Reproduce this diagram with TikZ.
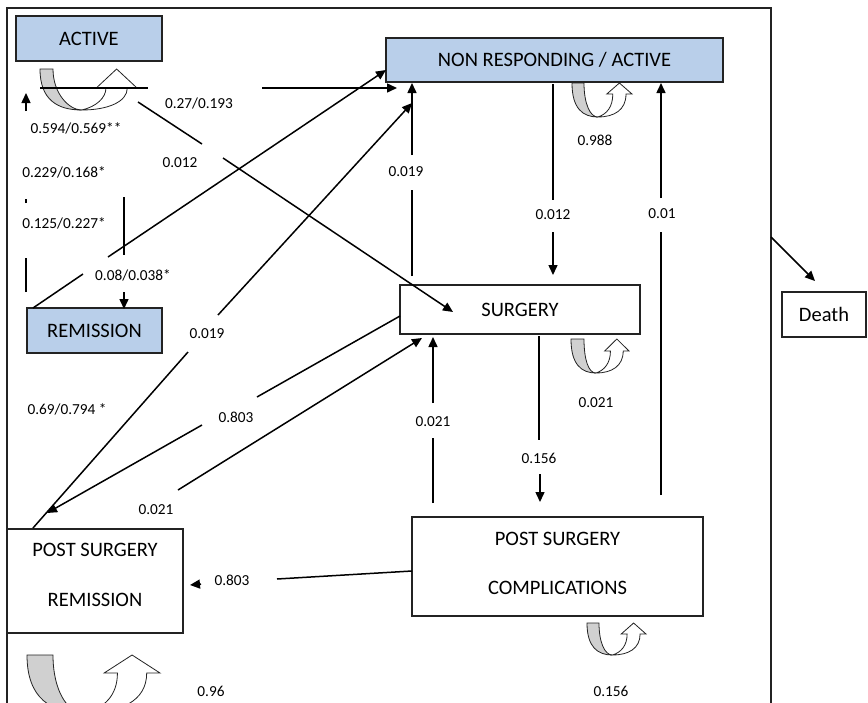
\documentclass[tikz,border=0pt]{standalone}
\usepackage{fontspec}
\setmainfont{Carlito}
\usetikzlibrary{arrows.meta}

\definecolor{stateblue}{RGB}{185,207,234}
\definecolor{loopgrey}{RGB}{208,208,208}
\definecolor{edgeink}{RGB}{35,35,35}

\tikzset{
  box/.style={draw=edgeink, line width=1.3pt, inner sep=0pt,
    font=\fontsize{20.5}{24}\selectfont},
  state/.style={box, fill=stateblue},
  twoline/.style={box, align=center, font=\fontsize{20.5}{49.5}\selectfont},
  prob/.style={inner sep=0pt, text depth=0pt, font=\fontsize{15.3}{18}\selectfont},
  link/.style={line width=1.5pt, draw=black},
  arr/.style={link, -{Triangle[length=10pt,width=9pt]}},
  frame/.style={line width=1.3pt, draw=edgeink},
  loopback/.style={draw=edgeink, line width=0.8pt, fill=loopgrey},
  loopfront/.style={draw=edgeink, line width=0.8pt, fill=white},
}

% curved self-transition icon: top-left corner (#1,#2), width #3, height #4,
% shaded band width #5, arrow-head length #6
\newcommand{\loopicon}[6]{%
  \begin{scope}[shift={(#1,#2)}]
    \path[loopback] (0,0) -- (#5,0)
      .. controls (#5,{0.6*#4}) and ({0.3*#3},#4) .. ({0.43*#3},#4)
      .. controls ({0.18*#3},#4) and (0,{0.75*#4}) .. cycle;
    \path[loopfront] ({0.43*#3},#4)
      .. controls ({0.58*#3},{0.92*#4}) and ({0.68*#3},{0.7*#4}) .. ({0.68*#3},#6)
      -- ({0.58*#3},#6) -- ({0.79*#3},0) -- (#3,#6) -- ({0.9*#3},#6)
      .. controls ({0.9*#3},{0.8*#4}) and ({0.7*#3},#4) .. cycle;
  \end{scope}}

\begin{document}
\begin{tikzpicture}[x=1pt,y=-1pt]
\useasboundingbox (0,0) rectangle (868,702);
\fill[white] (0,0) rectangle (868,702);
\clip (0,0) rectangle (868,702);

% outer frame
\draw[frame] (7,720) -- (7,8) -- (771,8) -- (771,720);

% states
\node[state, minimum width=146pt, minimum height=45pt] (act) at (89,38.5) {ACTIVE};
\node[state, minimum width=337pt, minimum height=44pt] (nra) at (554.5,60) {NON RESPONDING / ACTIVE};
\node[state, minimum width=135pt, minimum height=45pt] (rem) at (94.5,330.5) {REMISSION};
\node[box, minimum width=240pt, minimum height=49pt] (sur) at (520,309.5) {SURGERY};
\node[twoline, minimum width=176pt, minimum height=104pt, text depth=12pt] (psr) at (95,581) {POST SURGERY\\REMISSION};
\node[twoline, minimum width=291pt, minimum height=99pt, text depth=6pt] (psc) at (557.5,566.5) {POST SURGERY\\COMPLICATIONS};
\node[box, minimum width=84pt, minimum height=45pt] (dth) at (824,314.5) {Death};

% self transitions
\loopicon{40}{69}{97}{41}{13}{19}
\loopicon{572}{83}{60}{34}{12}{11}
\loopicon{571}{339}{58}{34}{13}{12}
\loopicon{587}{623}{59}{32}{12}{11}
\loopicon{27}{655}{133}{58}{26}{18}

% break points of the connectors (gaps leave room for the labels)
\coordinate (c1a) at (26,292); \coordinate (c1b) at (26,258);
\coordinate (c1c) at (26,203); \coordinate (c1d) at (26,199);
\coordinate (c1e) at (26,111); \coordinate (c1f) at (26,93);
\coordinate (c2a) at (124,197); \coordinate (c2b) at (124,255);
\coordinate (c2c) at (124,292); \coordinate (c2d) at (124,309);
\coordinate (c3a) at (33,308); \coordinate (c3b) at (83,274);
\coordinate (c3c) at (108,257); \coordinate (c3d) at (386,70);
\coordinate (c4a) at (138,102); \coordinate (c4b) at (202,144);
\coordinate (c4c) at (223,158); \coordinate (c4d) at (453,312);
\coordinate (c5a) at (40,88); \coordinate (c5b) at (148,88);
\coordinate (c5c) at (262,88); \coordinate (c5d) at (397,88);
\coordinate (c6a) at (33,528); \coordinate (c6b) at (188,352);
\coordinate (c6c) at (218,315); \coordinate (c6d) at (412,103);
\coordinate (c7a) at (412,276); \coordinate (c7b) at (412,190);
\coordinate (c7c) at (412,155); \coordinate (c7d) at (412,83);
\coordinate (c8a) at (400,316); \coordinate (c8b) at (257,397);
\coordinate (c8c) at (202,425); \coordinate (c8d) at (47,513);
\coordinate (c9a) at (178,490); \coordinate (c9b) at (422,338);
\coordinate (c10a) at (433,503); \coordinate (c10b) at (433,438);
\coordinate (c10c) at (433,403); \coordinate (c10d) at (433,337);
\coordinate (c11a) at (539,336); \coordinate (c11b) at (539,440);
\coordinate (c11c) at (540,474); \coordinate (c11d) at (540,502);
\coordinate (c12a) at (661,495); \coordinate (c12b) at (661,232);
\coordinate (c12c) at (661,198); \coordinate (c12d) at (661,83);
\coordinate (c13a) at (553,84); \coordinate (c13b) at (553,200);
\coordinate (c13c) at (553,232); \coordinate (c13d) at (553,275);
\coordinate (c14a) at (412,571); \coordinate (c14b) at (277,579);
\coordinate (c14c) at (201,584); \coordinate (c14d) at (190,585);
\coordinate (dthA) at (771,237); \coordinate (dthB) at (815,281);

% REMISSION -> ACTIVE
\draw[link] (c1a) -- (c1b);
\draw[link] (c1c) -- (c1d);
\draw[arr] (c1e) -- (c1f);
% ACTIVE -> REMISSION
\draw[link] (c2a) -- (c2b);
\draw[arr] (c2c) -- (c2d);
% REMISSION -> NON RESPONDING
\draw[link] (c3a) -- (c3b);
\draw[arr] (c3c) -- (c3d);
% ACTIVE -> SURGERY
\draw[link] (c4a) -- (c4b);
\draw[arr] (c4c) -- (c4d);
% ACTIVE -> NON RESPONDING
\draw[link] (c5a) -- (c5b);
\draw[arr] (c5c) -- (c5d);
% POST SURGERY REMISSION -> NON RESPONDING
\draw[link] (c6a) -- (c6b);
\draw[arr] (c6c) -- (c6d);
% SURGERY -> NON RESPONDING
\draw[link] (c7a) -- (c7b);
\draw[arr] (c7c) -- (c7d);
% SURGERY -> POST SURGERY REMISSION
\draw[link] (c8a) -- (c8b);
\draw[arr] (c8c) -- (c8d);
% POST SURGERY REMISSION -> SURGERY
\draw[arr] (c9a) -- (c9b);
% COMPLICATIONS -> SURGERY
\draw[link] (c10a) -- (c10b);
\draw[arr] (c10c) -- (c10d);
% SURGERY -> COMPLICATIONS
\draw[link] (c11a) -- (c11b);
\draw[arr] (c11c) -- (c11d);
% COMPLICATIONS -> NON RESPONDING
\draw[link] (c12a) -- (c12b);
\draw[arr] (c12c) -- (c12d);
% NON RESPONDING -> SURGERY
\draw[link] (c13a) -- (c13b);
\draw[arr] (c13c) -- (c13d);
% COMPLICATIONS -> POST SURGERY REMISSION
\draw[link] (c14a) -- (c14b);
\draw[arr] (c14c) -- (c14d);
% any state -> Death
\draw[arr] (dthA) -- (dthB);

% transition probabilities
\node[prob] (p1) at (76,128) {0.594/0.569**};
\node[prob] (p2) at (199,103) {0.27/0.193};
\node[prob] (p3) at (180,163) {0.012};
\node[prob] (p4) at (64,172) {0.229/0.168*};
\node[prob] (p5) at (64,223) {0.125/0.227*};
\node[prob] (p6) at (133,275) {0.08/0.038*};
\node[prob] (p7) at (207,334) {0.019};
\node[prob] (p8) at (406,172) {0.019};
\node[prob] (p9) at (595,140) {0.988};
\node[prob] (p10) at (553,215) {0.012};
\node[prob] (p11) at (662,214) {0.01};
\node[prob] (p12) at (596,403) {0.021};
\node[prob] (p13) at (433,422) {0.021};
\node[prob] (p14) at (539,458) {0.156};
\node[prob] (p15) at (236,417) {0.803};
\node[prob] (p16) at (156,510) {0.021};
\node[prob] (p17) at (232,580) {0.803};
\node[prob] (p18) at (211,691) {0.96};
\node[prob] (p19) at (611,691) {0.156};
\node[prob] (p20) at (67,409) {0.69/0.794 *};
\end{tikzpicture}
\end{document}
